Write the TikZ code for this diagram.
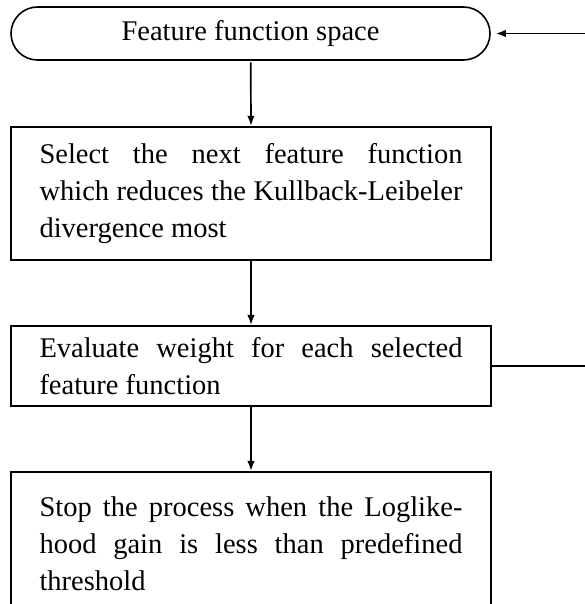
\documentclass[tikz,border=0pt]{standalone}
\usepackage{fontspec}
\setmainfont{Liberation Serif}
\usetikzlibrary{arrows.meta}
\begin{document}
\begin{tikzpicture}[x=1pt,y=-1pt,
  every node/.style={font=\fontsize{28.5pt}{37pt}\selectfont},
  roundbox/.style={draw, line width=1.6pt, rectangle, rounded corners=26.5pt,
    minimum width=479pt, minimum height=53pt, inner sep=0pt},
  procbox/.style={draw, line width=2.1pt, rectangle, minimum width=480pt,
    text width=423pt, align=justify, inner sep=0pt},
  arr/.style={line width=1.7pt, -{Latex[length=10pt,width=7.5pt]}},
  plainline/.style={line width=1.9pt}]
\clip (0,0) rectangle (585,604);
\node[roundbox] (fs) at (250.5,33.5) {Feature function space};
\node[procbox, minimum height=133pt] (sel) at (251,193.4)
  {Select the next feature function\linebreak which reduces the Kullback-Leibeler\linebreak divergence most};
\node[procbox, minimum height=80pt] (eval) at (251,366)
  {Evaluate weight for each selected\linebreak feature function};
\node[procbox, minimum height=144pt] (stop) at (251,544)
  {Stop the process when the Loglike-\linebreak hood gain is less than predefined\linebreak threshold};
\coordinate (r1) at (590,33.5);
\coordinate (r3) at (590,366);
\draw[arr] ([xshift=0.2pt,yshift=-1.5pt]fs.south) -- (sel.north);
\draw[arr] (sel.south) -- (eval.north);
\draw[arr] (eval.south) -- (stop.north);
\draw[arr, shorten >=5pt] (r1) -- (fs.east);
\draw[plainline] (eval.east) -- (r3);
\end{tikzpicture}
\end{document}
